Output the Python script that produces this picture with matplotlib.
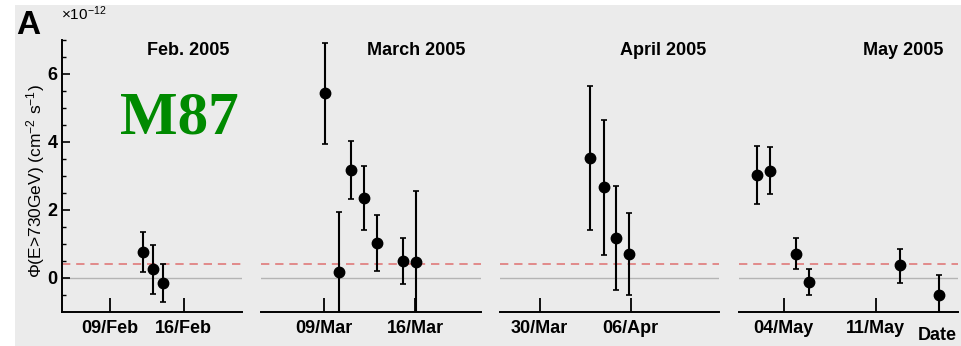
import matplotlib
matplotlib.use("Agg")
import matplotlib.pyplot as plt
import matplotlib.dates as mdates
from matplotlib.patches import Rectangle
from datetime import datetime

plt.rcParams["font.family"] = ["Liberation Sans", "DejaVu Sans"]
plt.rcParams["mathtext.fontset"] = "custom"
plt.rcParams["mathtext.rm"] = "Liberation Sans"
plt.rcParams["mathtext.it"] = "Liberation Sans:italic"
plt.rcParams["mathtext.bf"] = "Liberation Sans:bold"

# ---- nightly flux points, units of 1e-12 cm^-2 s^-1 ----
feb_day = [12.12, 13.10, 14.05]
feb_flux = [0.77, 0.26, -0.16]
feb_err_lo = [0.60, 0.73, 0.56]
feb_err_hi = [0.59, 0.71, 0.56]

mar_day = [9.10, 10.15, 11.09, 12.09, 13.08, 15.08, 16.07]
mar_flux = [5.43, 0.19, 3.18, 2.36, 1.03, 0.49, 0.47]
mar_err_lo = [1.49, 1.74, 0.85, 0.95, 0.82, 0.68, 2.10]
mar_err_hi = [1.48, 1.74, 0.86, 0.93, 0.81, 0.70, 2.10]

apr_day = [2.85, 3.92, 4.85, 5.87]
apr_flux = [3.52, 2.68, 1.18, 0.71]
apr_err_lo = [2.11, 2.00, 1.52, 1.21]
apr_err_hi = [2.14, 1.98, 1.53, 1.21]

may_day = [1.97, 2.93, 4.94, 5.90, 12.83, 15.82]
may_flux = [3.04, 3.15, 0.72, -0.12, 0.37, -0.51]
may_err_lo = [0.85, 0.69, 0.45, 0.37, 0.51, 0.61]
may_err_hi = [0.85, 0.71, 0.47, 0.38, 0.48, 0.61]

threshold = 0.41  # dashed reference level

titles = ["Feb. 2005", "March 2005", "April 2005", "May 2005"]
months = [2, 3, 4, 5]
tick_dates = [[(2, 9), (2, 16)], [(3, 9), (3, 16)],
              [(3, 30), (4, 6)], [(5, 4), (5, 11)]]
xlims = [[(2, 4.5), (2, 21.5)], [(3, 4.2), (3, 21.05)],
         [(3, 26.95), (4, 12.82)], [(4, 30.6), (5, 17.26)]]


def d(month, day):
    return mdates.date2num(datetime(2005, month, 1)) + day - 1


W, H = 961, 346
fig = plt.figure(figsize=(W / 100, H / 100), dpi=100)
fig.patch.set_facecolor("white")
fig.patches.append(Rectangle((15 / W, 0), 1 - 15 / W, 1 - 5 / H,
                             transform=fig.transFigure,
                             facecolor="#ebebeb", edgecolor="none",
                             zorder=-10))

# axes boxes in pixels: left, width
boxes = [(62, 180), (261, 220), (500, 219.3), (739, 219)]
bottom_px, top_px = 312, 40

series = [
    (feb_day, feb_flux, feb_err_lo, feb_err_hi),
    (mar_day, mar_flux, mar_err_lo, mar_err_hi),
    (apr_day, apr_flux, apr_err_lo, apr_err_hi),
    (may_day, may_flux, may_err_lo, may_err_hi),
]
title_x = [0.928, 0.927, 0.939, 0.932]

for i, (left, width) in enumerate(boxes):
    ax = fig.add_axes([left / W, (H - bottom_px) / H, width / W,
                       (bottom_px - top_px) / H])
    ax.set_facecolor("none")
    days, flux, elo, ehi = series[i]
    x = [d(months[i], v) for v in days]

    ax.axhline(0, color="#b4b4b4", lw=1.0, zorder=1)
    ax.axhline(threshold, color="#e07a7a", lw=1.2, ls=(0, (5, 3.5)), zorder=1)
    ax.errorbar(x, flux, yerr=[elo, ehi], fmt="o", color="black", ms=7.5,
                elinewidth=1.5, capsize=2.2, capthick=1.2, zorder=3)

    ax.set_ylim(-1, 7)
    ax.set_xlim(d(*xlims[i][0]), d(*xlims[i][1]))
    ax.set_xticks([d(*t) for t in tick_dates[i]])
    ax.xaxis.set_major_formatter(mdates.DateFormatter("%d/%b"))
    ax.tick_params(axis="x", direction="in", length=10, width=1.3,
                   labelsize=13, pad=6)
    for lab in ax.get_xticklabels():
        lab.set_fontweight("bold")

    for s in ["top", "right"]:
        ax.spines[s].set_visible(False)
    ax.spines["bottom"].set_linewidth(1.4)

    if i == 0:
        ax.spines["left"].set_linewidth(1.4)
        ax.set_yticks([0, 2, 4, 6])
        ax.set_yticks([-0.5, 0.5, 1, 1.5, 2.5, 3, 3.5, 4.5, 5, 5.5, 6.5, 7],
                      minor=True)
        ax.tick_params(axis="y", which="major", direction="in", length=6,
                       width=1.2, labelsize=13, pad=3)
        ax.tick_params(axis="y", which="minor", direction="in", length=3,
                       width=1.0)
        for lab in ax.get_yticklabels():
            lab.set_fontweight("bold")
        ax.text(0.65, 0.71, "M87", transform=ax.transAxes, ha="center",
                va="center", fontsize=44, fontweight="bold",
                family="Liberation Serif", color="#008a00")
    else:
        ax.spines["left"].set_visible(False)
        ax.set_yticks([])

    ax.text(title_x[i], 0.963, titles[i], transform=ax.transAxes,
            ha="right", va="center", fontsize=13, fontweight="bold")

fig.text(16 / W, 1 - 26 / H, "A", ha="left", va="center", fontsize=24,
         fontweight="bold")
fig.text(61 / W, 1 - 14 / H, r"$\times$10$^{-12}$", ha="left", va="center",
         fontsize=11)
fig.text(36 / W, 1 - 181 / H, r"$\Phi$(E>730GeV) (cm$^{-2}$ s$^{-1}$)",
         rotation=90, ha="center", va="center", fontsize=12.5)
fig.text(957 / W, 1 - 336 / H, "Date", ha="right", va="center", fontsize=13,
         fontweight="bold")

fig.savefig("out.png", dpi=100)
